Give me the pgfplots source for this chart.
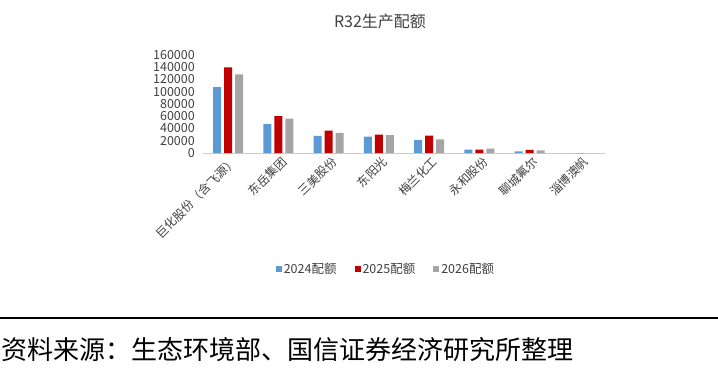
\documentclass[border=0pt]{standalone}
\usepackage{pgfplots}
\pgfplotsset{compat=1.18}
\usepackage{fontspec}
\setmainfont{Noto Sans CJK SC}
\definecolor{cblue}{RGB}{91,155,213}
\definecolor{cred}{RGB}{192,0,0}
\definecolor{cgray}{RGB}{165,165,165}
\definecolor{ctext}{RGB}{64,64,64}
\begin{document}
\begin{tikzpicture}[x=1pt,y=1pt]
\path[use as bounding box] (0,0) rectangle (718,-376);
\begin{axis}[
  at={(203pt,-153pt)}, anchor=south west,
  scale only axis, width=402pt, height=98pt,
  ybar=3pt, bar width=8pt,
  xmin=-0.5, xmax=7.5, ymin=0, ymax=160000,
  ytick={0,20000,40000,60000,80000,100000,120000,140000,160000},
  xtick={0,...,7},
  xticklabels={巨化股份（含飞源）,东岳集团,三美股份,东阳光,梅兰化工,永和股份,聊城氟尔,淄博澳帆},
  x tick label style={rotate=45, anchor=north east, font=\fontsize{12}{12}\selectfont, text=ctext, inner sep=1pt, xshift=1pt, yshift=-2pt},
  y tick label style={font=\fontsize{12.5}{12}\selectfont, text=ctext, inner sep=0pt, xshift=-8pt},
  /pgf/number format/assume math mode=true,
  scaled y ticks=false,
  yticklabel style={/pgf/number format/.cd, fixed, 1000 sep={}},
  separate axis lines,
  axis x line*=bottom, axis y line*=left,
  y axis line style={draw=none},
  x axis line style={draw=black!20, line width=0.8pt, -},
  major tick length=0pt,
  legend style={at={(0.455,-1.18)}, anchor=center, draw=none, legend columns=3,
    font=\fontsize{12.5}{12}\selectfont, text=ctext,
    /tikz/every even column/.append style={column sep=16pt}},
  legend image code/.code={\fill[#1] (0pt,-3pt) rectangle (6pt,3pt);},
]
\addplot[fill=cblue, draw=none] coordinates {(0,107500) (1,47000) (2,27800) (3,26600) (4,21200) (5,5500) (6,2500) (7,0)};
\addplot[fill=cred, draw=none] coordinates {(0,140000) (1,60400) (2,36400) (3,29900) (4,28300) (5,5500) (6,5000) (7,0)};
\addplot[fill=cgray, draw=none] coordinates {(0,128500) (1,56000) (2,33000) (3,29400) (4,22300) (5,7200) (6,4200) (7,0)};
\legend{2024配额,2025配额,2026配额}
\end{axis}
\node[font=\fontsize{16}{16}\selectfont, text=ctext] at (380,-21) {R32生产配额};
\draw[black, line width=1.5pt] (0,-318) -- (718,-318);
\node[anchor=west, font=\fontsize{26}{30}\selectfont, inner sep=0pt] at (1,-350) {资料来源：生态环境部、国信证券经济研究所整理};
\end{tikzpicture}
\end{document}
